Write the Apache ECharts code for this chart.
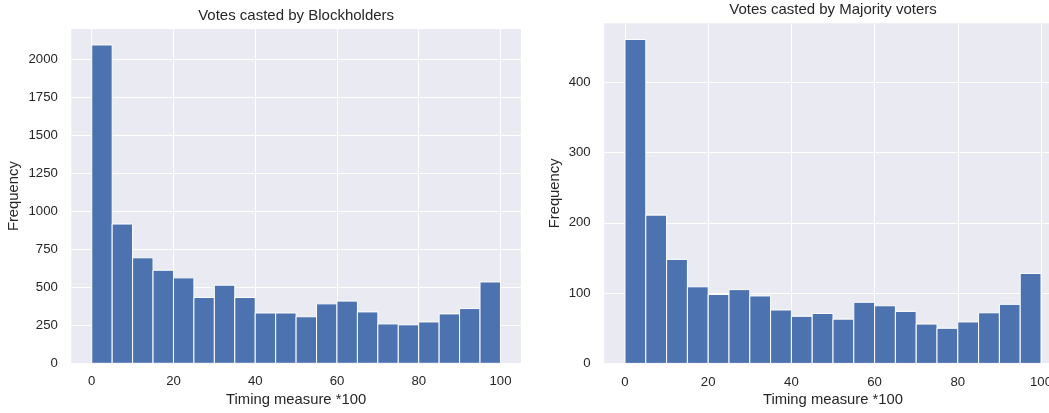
<!DOCTYPE html>
<html>
<head>
<meta charset="utf-8">
<title>Timing measure histograms</title>
<script src="https://cdn.jsdelivr.net/npm/echarts@6/dist/echarts.min.js"></script>
<style>
  html, body { margin: 0; padding: 0; background: #ffffff; }
  #chart { width: 1049px; height: 413px; }
</style>
</head>
<body>
<div id="chart"></div>
<script>
// Histogram bins (timing measure * 100), 20 bins of width 5
const binStarts = [0, 5, 10, 15, 20, 25, 30, 35, 40, 45, 50, 55, 60, 65, 70, 75, 80, 85, 90, 95];
const binEnds   = [5, 10, 15, 20, 25, 30, 35, 40, 45, 50, 55, 60, 65, 70, 75, 80, 85, 90, 95, 100];

// Counts per bin
const blockholderCounts = [2094, 916, 694, 612, 562, 433, 514, 433, 331, 331, 306, 391, 409, 338, 259, 253, 272, 325, 360, 535];
const majorityCounts    = [461, 211, 148, 109, 98, 105, 96, 76, 67, 71, 63, 87, 82, 74, 56, 50, 59, 72, 84, 128];

// Panel titles and axis texts
const panelTitles = ['Votes casted by Blockholders', 'Votes casted by Majority voters'];
const xAxisTitle = 'Timing measure *100';
const yAxisTitle = 'Frequency';

// Axis ranges and tick steps
const xRange = [-5, 105];
const xTickRange = [0, 100];
const xTickStep = 20;
const yMax = [2199, 484];
const yTickStep = [250, 100];

const FONT = '"Liberation Sans", Arial, Helvetica, sans-serif';
const TEXT = '#262626';
const BAR = '#4c72b0';
const FACE = '#eaeaf2';

const chart = echarts.init(document.getElementById('chart'), null, { renderer: 'canvas' });

// Layout of each panel's plotting area (pixels)
const panels = [
  { left: 71.3, width: 449.6, top: 29.0, height: 334.3, titleTop: 8.5, nameGapY: 50 },
  { left: 604.2, width: 457.6, top: 23.3, height: 340.1, titleTop: 2.2, nameGapY: 42 }
];

const grids = [], xAxes = [], yAxes = [], series = [], titles = [];

function renderBin(params, api) {
  const p0 = api.coord([api.value(0), 0]);
  const p1 = api.coord([api.value(1), api.value(2)]);
  return {
    type: 'rect',
    shape: { x: p0[0], y: p1[1], width: p1[0] - p0[0], height: p0[1] - p1[1] },
    style: { fill: BAR, stroke: '#ffffff', lineWidth: 1 }
  };
}

[blockholderCounts, majorityCounts].forEach((counts, i) => {
  const p = panels[i];
  const unit = p.width / (xRange[1] - xRange[0]);
  const innerLeft = p.left + (xTickRange[0] - xRange[0]) * unit;
  const innerWidth = (xTickRange[1] - xTickRange[0]) * unit;

  // outer grid: shaded plot face, bars, horizontal grid lines
  grids.push({
    left: p.left, top: p.top, width: p.width, height: p.height,
    show: true, backgroundColor: FACE, borderWidth: 0, outerBoundsMode: 'none'
  });
  // inner grid: spans the labelled x range, carries vertical grid lines
  grids.push({
    left: innerLeft, top: p.top, width: innerWidth, height: p.height,
    show: false, outerBoundsMode: 'none'
  });

  const g0 = i * 2, g1 = i * 2 + 1;

  xAxes.push({
    gridIndex: g0, type: 'value', min: xRange[0], max: xRange[1],
    axisLine: { show: false }, axisTick: { show: false },
    axisLabel: { show: false }, splitLine: { show: false }
  });
  xAxes.push({
    gridIndex: g1, type: 'value', min: xTickRange[0], max: xTickRange[1], interval: xTickStep,
    axisLine: { show: false }, axisTick: { show: false },
    axisLabel: { show: true, margin: 12, color: TEXT, fontSize: 13.2, fontFamily: FONT,
                 formatter: v => String(v) },
    splitLine: { show: true, lineStyle: { color: '#ffffff', width: 1 } },
    name: xAxisTitle, nameLocation: 'middle', nameGap: 29.5, nameMoveOverlap: false,
    nameTextStyle: { color: TEXT, fontSize: 14.8, fontFamily: FONT }
  });

  yAxes.push({
    gridIndex: g0, type: 'value', min: 0, max: yMax[i], interval: yTickStep[i],
    axisLine: { show: false }, axisTick: { show: false },
    axisLabel: { show: true, margin: 13.5, color: TEXT, fontSize: 13.2, fontFamily: FONT,
                 showMaxLabel: false, formatter: v => String(v) },
    splitLine: { show: true, showMaxLine: false, lineStyle: { color: '#ffffff', width: 1 } },
    name: yAxisTitle, nameLocation: 'middle', nameGap: p.nameGapY, nameMoveOverlap: false,
    nameTextStyle: { color: TEXT, fontSize: 14.8, fontFamily: FONT }
  });
  yAxes.push({
    gridIndex: g1, type: 'value', min: 0, max: yMax[i], show: false,
    splitLine: { show: false }
  });

  const data = binStarts.map((s, k) => [s, binEnds[k], counts[k]]);
  series.push({
    type: 'custom', xAxisIndex: xAxes.length - 2, yAxisIndex: yAxes.length - 2,
    renderItem: renderBin, encode: { x: [0, 1], y: 2 }, data: data,
    silent: true, z: 3
  });

  titles.push({
    text: panelTitles[i], left: p.left + p.width / 2, top: p.titleTop, textAlign: 'center',
    padding: 0,
    textStyle: { color: TEXT, fontSize: 15, fontWeight: 'normal', fontFamily: FONT }
  });
});

chart.setOption({
  animation: false,
  backgroundColor: '#ffffff',
  title: titles,
  grid: grids,
  xAxis: xAxes,
  yAxis: yAxes,
  series: series
});
</script>
</body>
</html>
